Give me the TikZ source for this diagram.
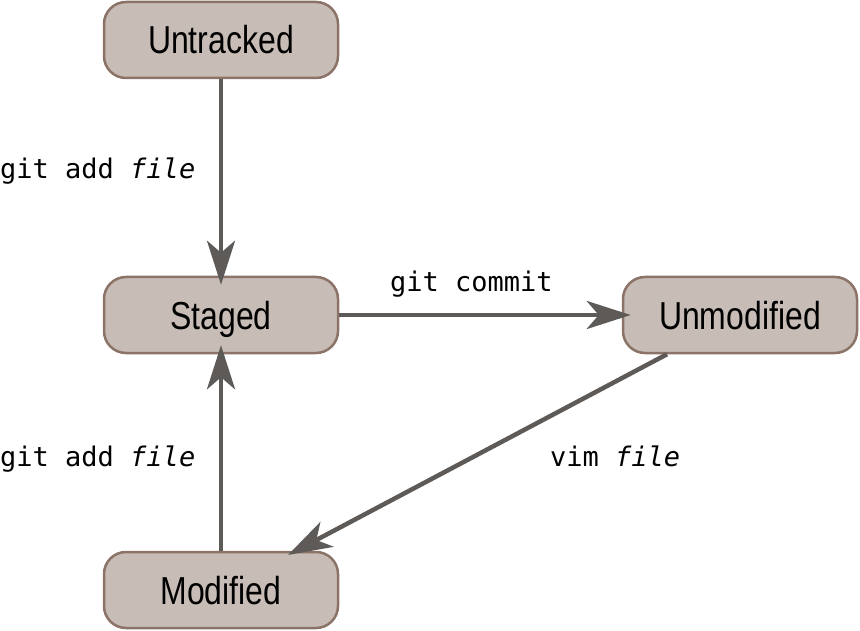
\documentclass[tikz,border=0pt]{standalone}
\usepackage{fontspec}
\setmainfont{Liberation Sans}[FakeStretch=0.82]
\setmonofont{DejaVu Sans Mono}
\usetikzlibrary{arrows.meta,calc}
\definecolor{nodefill}{HTML}{C8BDB6}
\definecolor{nodeedge}{HTML}{8C7368}
\definecolor{arrowgray}{HTML}{5E5A58}
\tikzset{
  state/.style={draw=nodeedge, fill=nodefill, line width=2.5pt, rounded corners=22pt,
    minimum width=234pt, minimum height=76pt, inner sep=0pt,
    text height=28pt, text depth=0pt, font=\fontsize{39}{44}\selectfont},
  conn/.style={draw=arrowgray, line width=4.5pt,
    -{Stealth[length=44pt,width=28pt,inset=12pt]}},
  into/.style={shorten >=-9pt},
  lbl/.style={anchor=base west, inner sep=0pt, font=\ttfamily\fontsize{27}{30}\selectfont}
}
\begin{document}
\begin{tikzpicture}[x=1pt,y=-1pt]
\useasboundingbox (0,0) rectangle (860,631);
\node[state] (untracked) at (221,40) {Untracked};
\node[state] (staged) at (221,315) {Staged};
\node[state] (unmod) at (740,315) {Unmodified};
\node[state] (modified) at (221,590) {Modified};
\coordinate (vs) at ($(unmod.south)+(-73pt,0)$);
\coordinate (ve) at (288,555);
\draw[conn,into] (untracked.south) -- (staged.north);
\draw[conn,into] (staged.east) -- (unmod.west);
\draw[conn,into] (modified.north) -- (staged.south);
\draw[conn] (vs) -- (ve);
\node[lbl] (l1) at (0,179) {git add \textit{file}};
\node[lbl] (l2) at (390,292) {git commit};
\node[lbl] (l3) at (0,466) {git add \textit{file}};
\node[lbl] (l4) at (550,466) {vim \textit{file}};
\end{tikzpicture}
\end{document}
